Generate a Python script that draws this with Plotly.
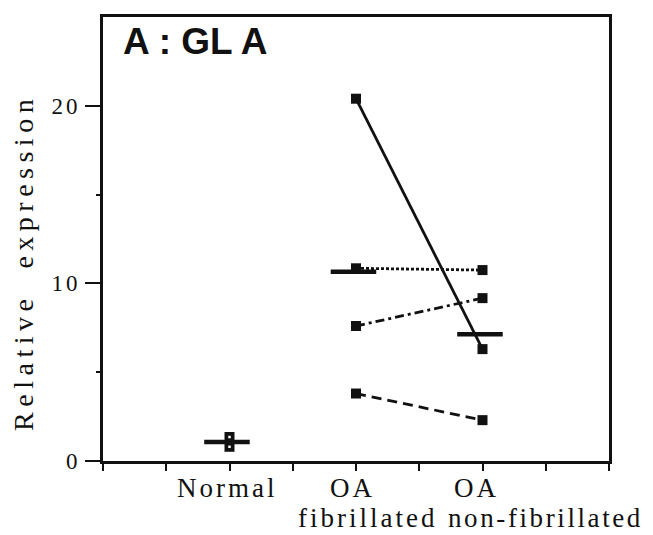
import numpy as np
import plotly.graph_objects as go

# ---- data ----
categories = ["Normal", "OA fibrillated", "OA non-fibrillated"]
label_lines = [["Normal"], ["OA", "fibrillated"], ["OA", "non-fibrillated"]]
normal_values = [1.35, 0.80]
fibrillated_values = [20.4, 10.85, 7.6, 3.8]
nonfibrillated_values = [6.3, 10.75, 9.17, 2.3]
y_tick_values = [0, 10, 20]
y_tick_labels = ["0", "10", "20"]
y_minor_ticks = [5, 15]
title_text = "A : GL A"
y_title_words = ["Relative", "expression"]

# ---- style ----
pair_dashes = ["solid", "3px,2px", "9px,4px,3px,4px", "10px,6px"]
label_offsets = [[-0.016], [-0.024, 0.09], [-0.047, 0.50]]
label_spacing = [[3], [3, 3], [3, 2.6]]
label_rows_y = [-0.0604, -0.1275]
serif = "Liberation Serif, Times New Roman, serif"
sans = "Liberation Sans, Arial, sans-serif"
black = "#111111"

cat_x = [i + 1 for i in range(len(categories))]

fig = go.Figure()

# paired lines
for i, (a, b) in enumerate(zip(fibrillated_values, nonfibrillated_values)):
    fig.add_trace(go.Scatter(
        x=[cat_x[1], cat_x[2]], y=[a, b], mode="lines+markers",
        line=dict(color=black, width=2.8, dash=pair_dashes[i]),
        marker=dict(symbol="square", size=10, color=black),
        showlegend=False, hoverinfo="skip"))

# normal points
fig.add_trace(go.Scatter(
    x=[cat_x[0]] * len(normal_values), y=normal_values, mode="markers",
    marker=dict(symbol="square", size=10, color=black),
    showlegend=False, hoverinfo="skip"))
fig.add_trace(go.Scatter(
    x=[cat_x[0]] * len(normal_values), y=normal_values, mode="markers",
    marker=dict(symbol="square", size=2.5, color="white"),
    showlegend=False, hoverinfo="skip"))

# mean bars
groups = [normal_values, fibrillated_values, nonfibrillated_values]
for cx, vals in zip(cat_x, groups):
    m = float(np.mean(vals))
    fig.add_trace(go.Scatter(
        x=[cx - 0.2, cx + 0.16], y=[m, m], mode="lines",
        line=dict(color=black, width=4.5),
        showlegend=False, hoverinfo="skip"))

annotations = []
# category labels
for cx, lines, offs, sps in zip(cat_x, label_lines, label_offsets, label_spacing):
    for r, (txt, off, sp) in enumerate(zip(lines, offs, sps)):
        annotations.append(dict(
            x=cx + off, y=label_rows_y[r], xref="x", yref="paper",
            text=f"<span style='letter-spacing:{sp}px'>{txt}</span>",
            showarrow=False, xanchor="center", yanchor="middle", borderpad=0,
            font=dict(family=serif, size=27, color=black)))

# y title
annotations.append(dict(
    x=-0.157, y=0.4474, xref="paper", yref="paper",
    text="<span style='letter-spacing:5.5px'>" + "&nbsp;&nbsp;".join(y_title_words) + "</span>",
    textangle=-90, showarrow=False, xanchor="center", yanchor="middle",
    font=dict(family=serif, size=28, color=black)))

# panel title
annotations.append(dict(
    x=0.035, y=0.944, xref="paper", yref="paper", text=f"<b>{title_text}</b>",
    showarrow=False, xanchor="left", yanchor="middle",
    font=dict(family=sans, size=37, color=black)))

# the page body adds an 8px offset, so the figure is sized to fit the window
fig.update_layout(
    width=645, height=527,
    margin=dict(l=95, r=44, t=6, b=74),
    plot_bgcolor="white", paper_bgcolor="white",
    annotations=annotations,
    xaxis=dict(range=[0, 4], tickvals=[k * 0.5 for k in range(9)],
               showticklabels=False, ticks="outside", ticklen=7, tickwidth=2,
               tickcolor=black, showline=True, linecolor=black, linewidth=3,
               mirror=True, showgrid=False, zeroline=False),
    yaxis=dict(range=[0, 25], tickvals=y_tick_values,
               ticktext=[f"<span style='letter-spacing:3px'>{t}</span>" for t in y_tick_labels],
               ticks="outside", ticklen=15, tickwidth=2, tickcolor=black,
               tickfont=dict(family=serif, size=23, color=black),
               minor=dict(tickvals=y_minor_ticks, ticks="outside", ticklen=4,
                          tickwidth=2, tickcolor=black, showgrid=False),
               showline=True, linecolor=black, linewidth=3, mirror=True,
               showgrid=False, zeroline=False),
)

fig.write_html("out.html")
